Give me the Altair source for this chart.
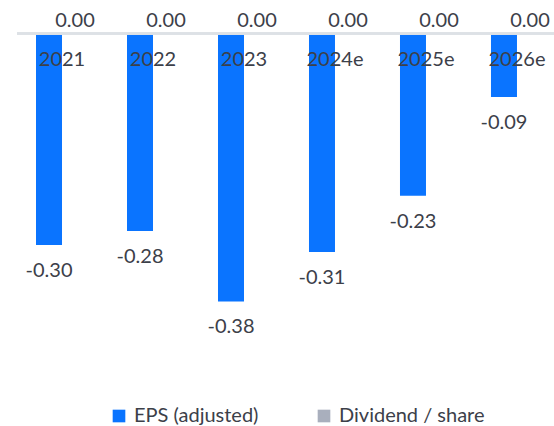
import altair as alt
import pandas as pd

years = ["2021", "2022", "2023", "2024e", "2025e", "2026e"]
eps = [-0.30, -0.28, -0.38, -0.31, -0.23, -0.09]
dividend = [0.00, 0.00, 0.00, 0.00, 0.00, 0.00]
series = ["EPS (adjusted)", "Dividend / share"]
colors = ["#0A74FF", "#A9AFBD"]

df = pd.DataFrame({
    "year": years,
    "eps": eps,
    "div": dividend,
    "zero": [0.0] * len(years),
    "series": [series[0]] * len(years),
    "eps_label": [f"{v:.2f}" for v in eps],
    "div_label": [f"{v:.2f}" for v in dividend],
})

FONT = "Lato"
TXT = "#3C4049"
YDOM = [-0.4773, 0.0475]

x = alt.X("year:N", sort=years, axis=None,
          scale=alt.Scale(paddingInner=0.4286, paddingOuter=0.165, align=0.633))
yscale = alt.Scale(domain=YDOM, nice=False, zero=False)

base = alt.Chart(df)

bars = base.mark_bar(width=26, xOffset=-13).encode(
    x=x,
    y=alt.Y("eps:Q", axis=None, scale=yscale),
    y2="zero:Q",
    color=alt.Color("series:N",
                    scale=alt.Scale(domain=series, range=colors),
                    legend=alt.Legend(title=None, orient="none", direction="horizontal",
                                      legendX=92, legendY=406,
                                      symbolType="square", symbolSize=160,
                                      symbolStrokeWidth=0, symbolOpacity=1,
                                      labelFontSize=20, labelFont=FONT, labelColor=TXT,
                                      labelOffset=5, columnPadding=55)),
)

zero_line = base.mark_rule(color="#DDE1E6", strokeWidth=2).encode(
    y=alt.Y("zero:Q", scale=yscale))

eps_labels = base.mark_text(font=FONT, fontSize=20, color=TXT, dx=-13, dy=26).encode(
    x=x, y=alt.Y("eps:Q", scale=yscale), text="eps_label:N")

div_labels = base.mark_text(font=FONT, fontSize=20, color=TXT, dx=13, dy=-12).encode(
    x=x, y=alt.Y("div:Q", scale=yscale), text="div_label:N")

year_labels = base.mark_text(font=FONT, fontSize=20, color=TXT, dy=27).encode(
    x=x, y=alt.Y("zero:Q", scale=yscale), text="year:N")

chart = alt.layer(bars, zero_line, eps_labels, div_labels, year_labels).properties(
    width=537, height=370,
    autosize=alt.AutoSizeParams(type="none"),
    padding={"left": 17, "top": 0, "right": 0, "bottom": 56},
).configure_view(stroke=None)

chart.save("out.html", embed_options={"renderer": "svg", "actions": False})
